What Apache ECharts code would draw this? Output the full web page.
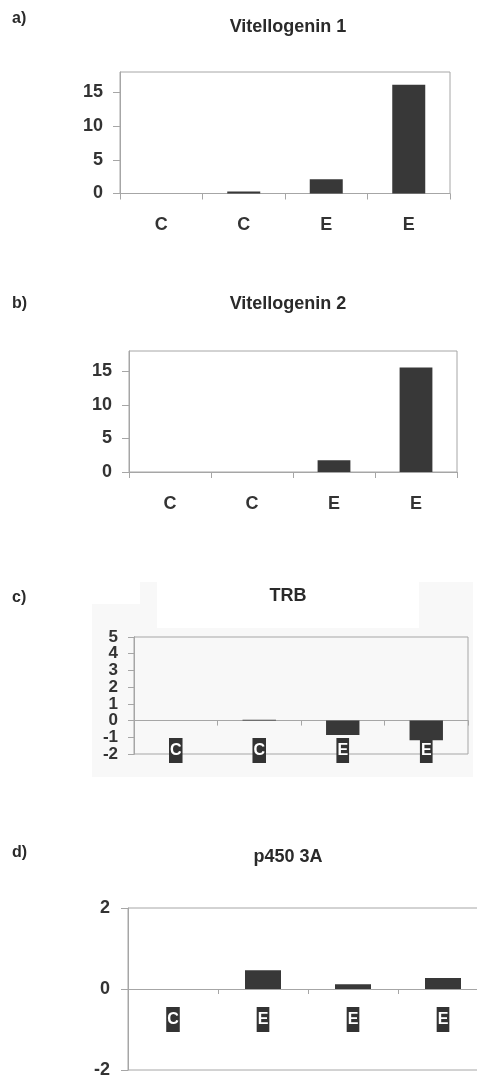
<!DOCTYPE html>
<html>
<head>
<meta charset="utf-8">
<script src="https://cdn.jsdelivr.net/npm/echarts@6/dist/echarts.min.js"></script>
<style>
  html, body { margin: 0; padding: 0; background: #fff; }
  #chart { width: 477px; height: 1076px; }
</style>
</head>
<body>
<div id="chart"></div>
<script>
// ---- data ----
const titles = ['Vitellogenin 1', 'Vitellogenin 2', 'TRB', 'p450 3A'];
const panelLabels = ['a)', 'b)', 'c)', 'd)'];
const categoriesA = ['C', 'C', 'E', 'E'];
const categoriesB = ['C', 'C', 'E', 'E'];
const categoriesC = ['C', 'C', 'E', 'E'];
const categoriesD = ['C', 'E', 'E', 'E'];
const valuesA = [0, 0.3, 2.1, 16.1];
const valuesB = [0, 0, 1.75, 15.55];
const valuesC = [0, 0.05, -0.86, -1.17];
const valuesD = [0, 0.46, 0.12, 0.27];
const ticksA = [0, 5, 10, 15];
const ticksB = [0, 5, 10, 15];
const ticksC = [-2, -1, 0, 1, 2, 3, 4, 5];
const ticksD = [-2, 0, 2];

// ---- styling ----
const FONT = '"Liberation Sans", Arial, sans-serif';
const AXIS_COLOR = '#a6a6a6';
const BAR_COLOR = '#383838';
const TEXT_COLOR = '#2a2a2a';

const grids = [
  { left: 120, top: 72, width: 330, height: 121.5 },
  { left: 129, top: 351, width: 328, height: 121 },
  { left: 134, top: 637, width: 334, height: 117 },
  { left: 128, top: 908, width: 360, height: 162 }
].map(g => Object.assign({
  show: true, borderColor: AXIS_COLOR, borderWidth: 1, backgroundColor: 'transparent',
  containLabel: false, outerBoundsMode: 'none'
}, g));

const cats = [categoriesA, categoriesB, categoriesC, categoriesD];
const vals = [valuesA, valuesB, valuesC, valuesD];
// panel c's tightly packed labels are split over two overlaid axes so none get hidden
const ticksCEven = ticksC.filter(v => v % 2 === 0);
const ticksCOdd = ticksC.filter(v => v % 2 !== 0);
const ticks = [ticksA, ticksB, ticksCEven, ticksD, ticksCOdd];
const yGrid = [0, 1, 2, 3, 2];
const yRange = [[0, 18], [0, 18], [-2, 5], [-2, 2], [-2, 5]];
const xLabelMargin = [23, 23, -16, -63];

const boxedLabel = {
  color: '#ffffff', fontFamily: FONT, fontWeight: 'bold', fontSize: 16,
  backgroundColor: '#333333', padding: [5, 1, 4, 1], lineHeight: 16
};

const xAxes = cats.map((c, i) => {
  const boxed = i >= 2;
  return {
    type: 'category', gridIndex: i, data: c, position: 'bottom',
    axisLine: { show: true, onZero: true, lineStyle: { color: AXIS_COLOR, width: 1 } },
    axisTick: { show: true, length: boxed ? 5 : 6, lineStyle: { color: AXIS_COLOR } },
    axisLabel: boxed
      ? Object.assign({ margin: xLabelMargin[i], hideOverlap: false }, boxedLabel)
      : { margin: xLabelMargin[i], hideOverlap: false, color: '#333', fontFamily: FONT, fontWeight: 'bold', fontSize: 18 },
    splitLine: { show: false }
  };
});

const yAxes = ticks.map((t, i) => {
  const g = yGrid[i];
  return {
    type: 'value', gridIndex: g, min: yRange[i][0], max: yRange[i][1], position: 'left', offset: 0,
    axisLine: { show: true, onZero: false, lineStyle: { color: AXIS_COLOR, width: 1 } },
    axisTick: { show: true, length: g === 2 ? 6 : 7, lineStyle: { color: AXIS_COLOR }, customValues: t },
    axisLabel: {
      customValues: t,
      showMinLabel: true, showMaxLabel: true, hideOverlap: false,
      margin: g === 2 ? 16 : (g === 3 ? 18 : 17),
      color: '#333', fontFamily: FONT, fontWeight: 'bold', fontSize: g === 2 ? 17 : 18
    },
    splitLine: { show: false }
  };
});

const series = vals.map((v, i) => ({
  type: 'bar', xAxisIndex: i, yAxisIndex: i, data: v,
  barWidth: '40%', itemStyle: { color: BAR_COLOR }, silent: true, z: 2
}));

const titleY = [27, 304, 596, 857];
const labelY = [19, 304, 598, 853];
const graphics = [
  // light grey scanned background behind panel c
  { type: 'rect', z: -10, shape: { x: 92, y: 582, width: 381, height: 195 }, style: { fill: '#f8f8f8' } },
  { type: 'rect', z: -9, shape: { x: 157, y: 582, width: 262, height: 46 }, style: { fill: '#ffffff' } },
  { type: 'rect', z: -9, shape: { x: 92, y: 582, width: 48, height: 22 }, style: { fill: '#ffffff' } }
];
titles.forEach((t, i) => {
  graphics.push({
    type: 'text', z: 10,
    style: { text: t, x: 288, y: titleY[i], textAlign: 'center', textVerticalAlign: 'middle',
      font: 'bold 18px ' + FONT, fill: TEXT_COLOR }
  });
});
panelLabels.forEach((t, i) => {
  graphics.push({
    type: 'text', z: 10,
    style: { text: t, x: 12, y: labelY[i], textAlign: 'left', textVerticalAlign: 'middle',
      font: 'bold 16px ' + FONT, fill: TEXT_COLOR }
  });
});

const chart = echarts.init(document.getElementById('chart'), null, { renderer: 'canvas' });
chart.setOption({
  animation: false,
  backgroundColor: '#ffffff',
  grid: grids,
  xAxis: xAxes,
  yAxis: yAxes,
  series: series,
  graphic: graphics
});
</script>
</body>
</html>
